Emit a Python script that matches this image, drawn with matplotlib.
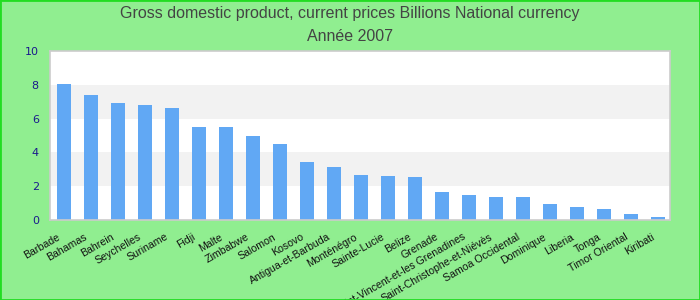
import numpy as np
import matplotlib
matplotlib.use("Agg")
import matplotlib.pyplot as plt
from matplotlib.patches import Rectangle
from matplotlib.transforms import ScaledTranslation

# Data
pays = ["Barbade", "Bahamas", "Bahrein", "Seychelles", "Suriname", "Fidji", "Malte",
        "Zimbabwe", "Salomon", "Kosovo", "Antigua-et-Barbuda", "Monténégro",
        "Sainte-Lucie", "Belize", "Grenade", "Saint-Vincent-et-les Grenadines",
        "Saint-Christophe-et-Niévès", "Samoa Occidental", "Dominique", "Liberia",
        "Tonga", "Timor Oriental", "Kiribati"]
valeurs = [8.05, 7.4, 6.92, 6.8, 6.63, 5.5, 5.5, 4.97, 4.5, 3.43, 3.14, 2.66,
           2.6, 2.54, 1.66, 1.48, 1.36, 1.36, 0.95, 0.77, 0.65, 0.36, 0.18]
yticks = [0, 2, 4, 6, 8, 10]

fig = plt.figure(figsize=(7, 3), dpi=100, facecolor="#90ee90")
fig.patches.append(Rectangle((0, 0), 1, 1, transform=fig.transFigure,
                             fill=False, edgecolor="#22dd22", linewidth=2))
ax = fig.add_axes([0.0714, 0.267, 0.886, 0.563])

x = np.arange(len(pays))
ax.set_xlim(-0.52, len(pays) - 0.56)
ax.set_ylim(0, 10)

# alternating bands
for i in range(len(yticks) - 1):
    ax.axhspan(yticks[i], yticks[i + 1], color="white" if i % 2 == 0 else "#f2f2f2",
               zorder=0, lw=0)

ax.bar(x, valeurs, width=0.52, color="#61a8f4", zorder=2)

ax.set_yticks(yticks)
ax.set_yticklabels([str(t) for t in yticks], color="#1a1a8c", fontsize=8)
ax.set_xticks(x)
ax.set_xticklabels(pays, rotation=30, ha="right", rotation_mode="anchor",
                   fontsize=7.6, family="Liberation Sans", color="#111111")
ax.tick_params(length=0, pad=8)
ax.tick_params(axis="x", pad=5)
# nudge the rotated labels a little down-left, like the original
shift = ScaledTranslation(-0.07, -0.05, fig.dpi_scale_trans)
for lab in ax.get_xticklabels():
    lab.set_transform(lab.get_transform() + shift)

for s in ax.spines.values():
    s.set_color("#cccccc")
    s.set_linewidth(1.2)

fig.text(0.5, 0.955, "Gross domestic product, current prices Billions National currency",
         ha="center", va="center", fontsize=11.5, color="#444444", family="Liberation Sans")
fig.text(0.5, 0.877, "Année 2007", ha="center", va="center", fontsize=11.5,
         color="#444444", family="Liberation Sans")

fig.savefig("out.png", dpi=100, facecolor=fig.get_facecolor())
